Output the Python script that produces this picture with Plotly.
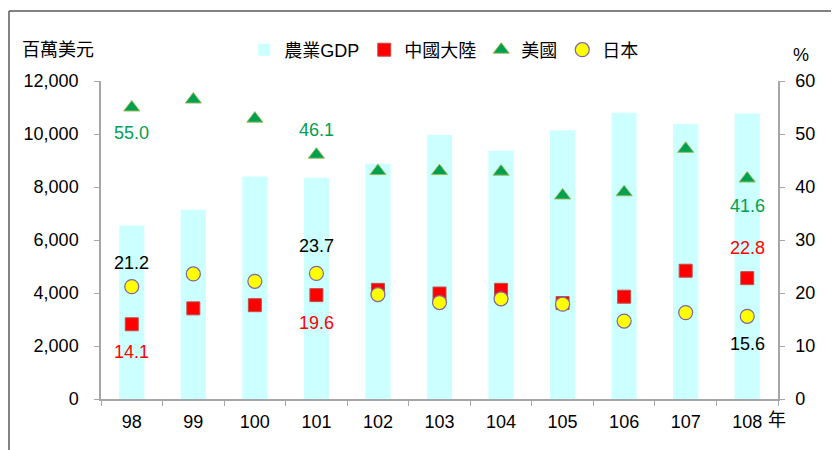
import plotly.graph_objects as go

years = ["98", "99", "100", "101", "102", "103", "104", "105", "106", "107", "108"]
gdp = [6550, 7140, 8400, 8350, 8880, 9960, 9370, 10140, 10800, 10380, 10770]
china = [14.1, 17.1, 17.7, 19.6, 20.6, 19.9, 20.6, 18.1, 19.3, 24.2, 22.8]
usa = [55.0, 56.5, 52.9, 46.1, 43.0, 43.0, 42.9, 38.4, 39.0, 47.2, 41.6]
japan = [21.2, 23.6, 22.2, 23.7, 19.7, 18.2, 18.9, 17.9, 14.7, 16.3, 15.6]

left_ticks = [0, 2000, 4000, 6000, 8000, 10000, 12000]
right_ticks = [0, 10, 20, 30, 40, 50, 60]

FONT = "Arial, 'Liberation Sans', 'Noto Sans CJK TC', sans-serif"
GREEN = "#00A050"

fig = go.Figure()
fig.add_trace(go.Bar(x=years, y=gdp, name="農業GDP", marker=dict(color="#CCFFFF", line=dict(width=0)), yaxis="y"))
fig.add_trace(go.Scatter(x=years, y=china, name="中國大陸", mode="markers", yaxis="y2",
                         marker=dict(symbol="square", size=13, color="#FF0000", line=dict(color="#C0504D", width=1))))
fig.add_trace(go.Scatter(x=years, y=usa, name="美國", mode="markers", yaxis="y2",
                         marker=dict(symbol="triangle-up", size=14, color="#00A050", line=dict(color="#9BBB59", width=1))))
fig.add_trace(go.Scatter(x=years, y=japan, name="日本", mode="markers", yaxis="y2",
                         marker=dict(symbol="circle", size=14, color="#FFFF00", line=dict(color="#8064A2", width=1.2))))

# data labels: (year index, series values, color, vertical shift in px)
labels = [
    (0, usa, GREEN, -25), (0, china, "#FF0000", -28), (0, japan, "#000000", 24),
    (3, usa, GREEN, 25), (3, china, "#FF0000", -28), (3, japan, "#000000", 27),
    (10, usa, GREEN, -27), (10, china, "#FF0000", 30), (10, japan, "#000000", -28),
]
annotations = []
for i, series, col, shift in labels:
    annotations.append(dict(x=i, y=series[i], xref="x", yref="y2", text=f"{series[i]:.1f}",
                            showarrow=False, yshift=shift, font=dict(size=18, color=col, family=FONT)))

annotations += [
    dict(x=-0.0635, y=1.0975, xref="paper", yref="paper", text="百萬美元", showarrow=False,
         xanchor="center", yanchor="middle", font=dict(size=18, color="#000", family=FONT)),
    dict(x=1.034, y=1.082, xref="paper", yref="paper", text="%", showarrow=False,
         xanchor="center", yanchor="middle", font=dict(size=18, color="#000", family=FONT)),
    dict(x=0.9985, y=-0.066, xref="paper", yref="paper", text="年", showarrow=False,
         xanchor="center", yanchor="middle", font=dict(size=18, color="#000", family=FONT)),
]

shapes = [
    dict(type="line", xref="paper", yref="paper", x0=-0.1359, x1=1.1, y0=1.2201, y1=1.2201,
         line=dict(color="#595959", width=1.5)),
    dict(type="line", xref="paper", yref="paper", x0=-0.1359, x1=-0.1359, y0=1.2201, y1=-0.2,
         line=dict(color="#595959", width=1.5)),
]

fig.update_layout(
    width=831, height=442,
    margin=dict(l=93, r=61, t=73, b=51, autoexpand=False),
    paper_bgcolor="white", plot_bgcolor="white",
    font=dict(family=FONT, size=18, color="#000"),
    bargap=0.59,
    showlegend=True,
    legend=dict(orientation="h", x=0.507, xanchor="center", y=1.0975, yanchor="middle",
                font=dict(size=18), itemwidth=30, bgcolor="rgba(0,0,0,0)"),
    xaxis=dict(type="category", range=[-0.5, 10.5], showline=True, linecolor="#A6A6A6", linewidth=1.5,
               ticks="outside", tickson="boundaries", ticklen=5, tickcolor="#A6A6A6",
               showgrid=False, tickfont=dict(size=18), tickangle=0, automargin=False,
               ticklabelstandoff=6),
    yaxis=dict(range=[0, 12000], tickvals=left_ticks, tickformat=",", showline=True,
               linecolor="#A6A6A6", linewidth=1.5, ticks="outside", ticklen=5, tickcolor="#A6A6A6",
               showgrid=False, zeroline=False, tickfont=dict(size=18), automargin=False,
               ticklabelstandoff=12),
    yaxis2=dict(range=[0, 60], tickvals=right_ticks, overlaying="y", side="right", showline=True,
                linecolor="#A6A6A6", linewidth=1.5, ticks="outside", ticklen=5, tickcolor="#A6A6A6",
                showgrid=False, zeroline=False, tickfont=dict(size=18), automargin=False,
                ticklabelstandoff=7),
    annotations=annotations,
    shapes=shapes,
)

fig.write_html("out.html")
